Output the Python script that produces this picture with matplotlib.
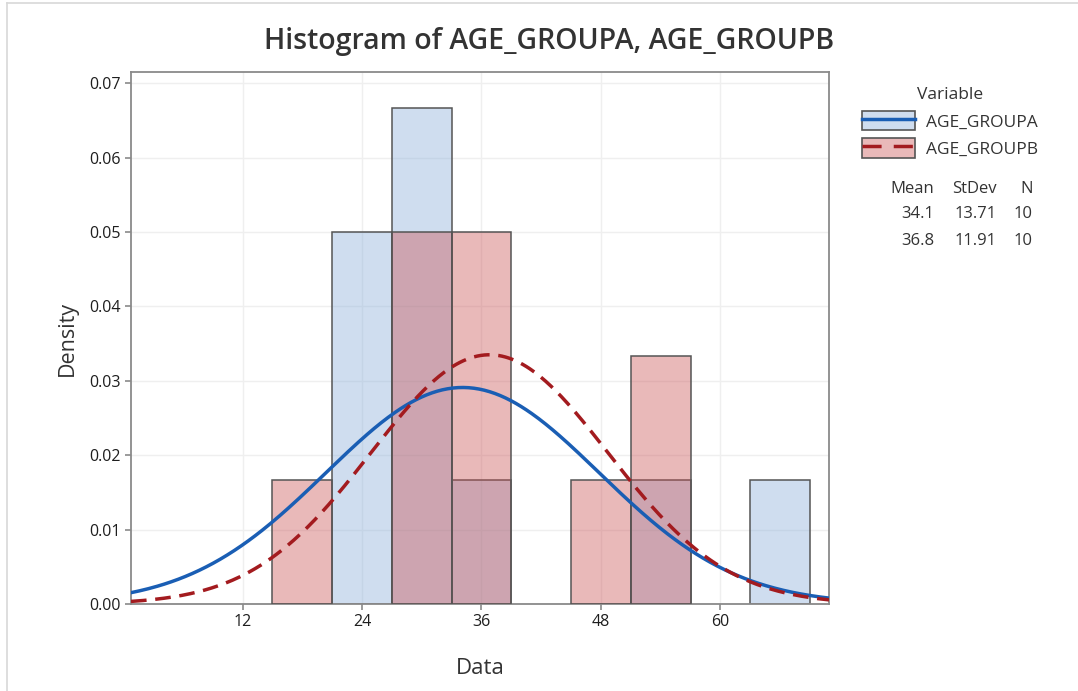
import numpy as np
import matplotlib
matplotlib.use('Agg')
import matplotlib.pyplot as plt
from matplotlib.patches import Patch
from matplotlib.lines import Line2D

# bin edges (width 6) and counts
bin_left = [15, 21, 27, 33, 39, 45, 51, 57, 63]
bin_width = 6
counts_a = [0, 3, 4, 1, 0, 0, 1, 0, 1]
counts_b = [1, 0, 3, 3, 0, 1, 2, 0, 0]

labels = ['AGE_GROUPA', 'AGE_GROUPB']
means = [34.1, 36.8]
stdevs = [13.71, 11.91]
ns = [10, 10]

x_ticks = [12, 24, 36, 48, 60]
y_ticks = [0.00, 0.01, 0.02, 0.03, 0.04, 0.05, 0.06, 0.07]

blue_fill = (135/255, 172/255, 217/255, 0.4)
red_fill = (202/255, 80/255, 82/255, 0.4)
blue_line = '#1a5eb4'
red_line = '#a31b1f'
edge = '#555555'
txt = '#333333'

plt.rcParams['font.family'] = ['Open Sans', 'DejaVu Sans']

fig = plt.figure(figsize=(10.78, 6.91), dpi=100)
ax = fig.add_axes([131/1078, 87/691, 698/1078, 532/691])

x_lo, x_hi = 0.8, 70.9
ax.set_xlim(x_lo, x_hi)
ax.set_ylim(0, 0.0715)

dens_a = np.array(counts_a) / (ns[0] * bin_width)
dens_b = np.array(counts_b) / (ns[1] * bin_width)

for left, d in zip(bin_left, dens_a):
    if d > 0:
        ax.bar(left, d, width=bin_width, align='edge', color=blue_fill,
               edgecolor=edge, linewidth=1.1, zorder=2)
for left, d in zip(bin_left, dens_b):
    if d > 0:
        ax.bar(left, d, width=bin_width, align='edge', color=red_fill,
               edgecolor=edge, linewidth=1.1, zorder=3)

dash = (0, (4.5, 2.5))
xs = np.linspace(x_lo, x_hi, 400)
for m, s, c, ls in zip(means, stdevs, [blue_line, red_line], ['-', dash]):
    pdf = np.exp(-0.5 * ((xs - m) / s) ** 2) / (s * np.sqrt(2 * np.pi))
    ax.plot(xs, pdf, color=c, linestyle=ls, linewidth=2.5, zorder=4)

ax.set_xticks(x_ticks)
ax.set_yticks(y_ticks)
ax.set_yticklabels(['%.2f' % v for v in y_ticks])
ax.grid(True, color='#efefef', linewidth=1)
ax.set_axisbelow(True)
for sp in ax.spines.values():
    sp.set_color('#8a8a8a')
    sp.set_linewidth(1.3)
ax.tick_params(colors='#8a8a8a', labelcolor='#1e1e1e', labelsize=11.5,
               length=4, width=1.2)

ax.set_xlabel('Data', fontsize=16, color=txt, labelpad=20)
ax.set_ylabel('Density', fontsize=15.5, color=txt, labelpad=8)
fig.text(549/1078, 1 - 42/691, 'Histogram of AGE_GROUPA, AGE_GROUPB',
         ha='center', va='center', fontsize=20.5, fontweight='semibold', color=txt)

# legend
handles = [(Patch(facecolor=blue_fill, edgecolor=edge, linewidth=1.2),
            Line2D([], [], color=blue_line, linewidth=2.5)),
           (Patch(facecolor=red_fill, edgecolor=edge, linewidth=1.2),
            Line2D([], [], color=red_line, linewidth=2.5, linestyle=(0, (5.5, 3.5))))]
leg = fig.legend(handles, labels, title='Variable', loc='upper left',
                 bbox_to_anchor=(862/1078, 1 - 87/691), frameon=False,
                 borderpad=0, borderaxespad=0,
                 fontsize=12.5, title_fontsize=12.5, handlelength=3.05,
                 handleheight=1.35, handletextpad=0.65, labelspacing=0.45)
for t in leg.get_texts():
    t.set_color(txt)
leg.get_title().set_color(txt)

# stats table
col_x = [934, 997, 1033]
fs = 12
fig.text(col_x[0] / 1078, 1 - 189/691, 'Mean', ha='right', va='center', fontsize=fs, color=txt)
fig.text(col_x[1] / 1078, 1 - 189/691, 'StDev', ha='right', va='center', fontsize=fs, color=txt)
fig.text(col_x[2] / 1078, 1 - 189/691, 'N', ha='right', va='center', fontsize=fs, color=txt)
for i, (m, s, n) in enumerate(zip(means, stdevs, ns)):
    y = 1 - (214 + 27 * i) / 691
    fig.text(col_x[0] / 1078, y, '%.1f' % m, ha='right', va='center', fontsize=fs, color=txt)
    fig.text(col_x[1] / 1078, y, '%.2f' % s, ha='right', va='center', fontsize=fs, color=txt)
    fig.text(col_x[2] / 1078, y, '%d' % n, ha='right', va='center', fontsize=fs, color=txt)

# outer frame
fig.add_artist(Line2D([7/1078, 7/1078], [0, 1 - 3/691], color='#d8d8d8', linewidth=1.2))
fig.add_artist(Line2D([7/1078, 1], [1 - 3/691, 1 - 3/691], color='#d8d8d8', linewidth=1.2))

fig.savefig('out.png', dpi=100)
